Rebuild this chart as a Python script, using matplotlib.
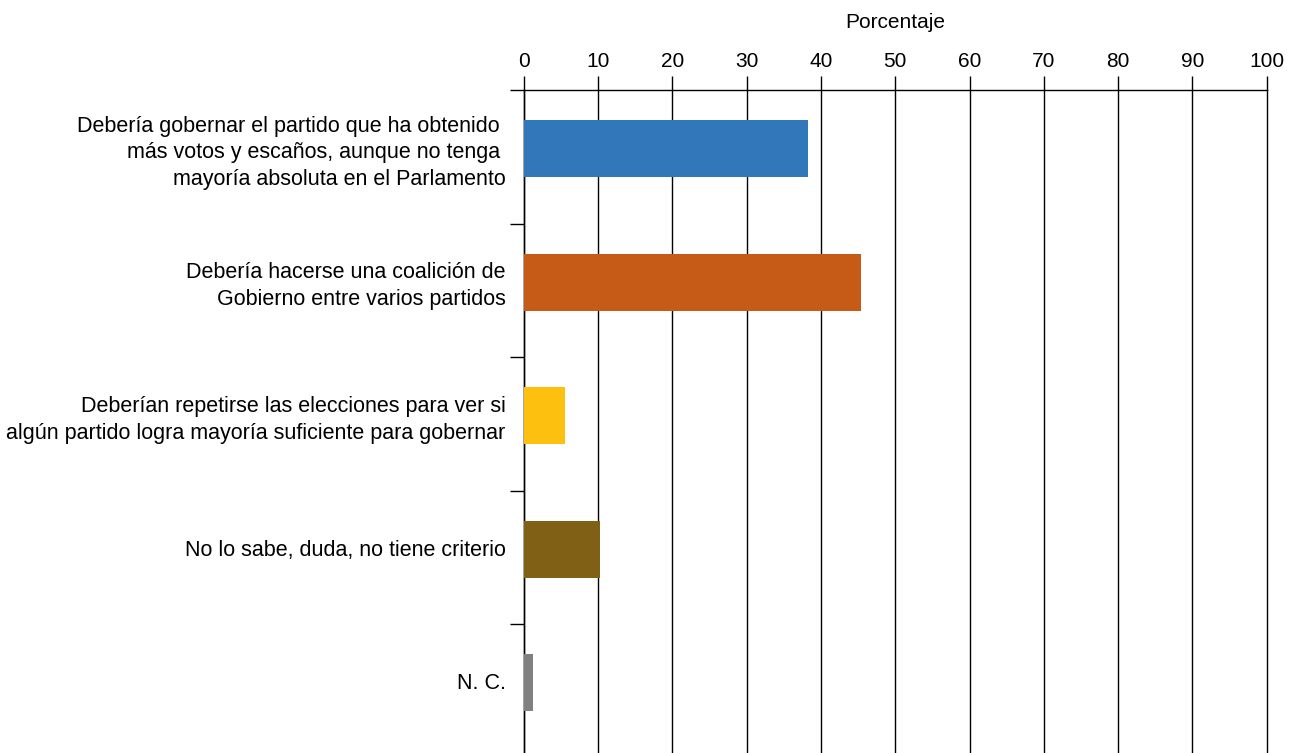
import numpy as np
import matplotlib
matplotlib.use("Agg")
import matplotlib.pyplot as plt

# -----------------------------
# DATA
# -----------------------------
categories = [
    "Debería gobernar el partido que ha obtenido \nmás votos y escaños, aunque no tenga \nmayoría absoluta en el Parlamento",
    "Debería hacerse una coalición de\nGobierno entre varios partidos",
    "Deberían repetirse las elecciones para ver si\nalgún partido logra mayoría suficiente para gobernar",
    "No lo sabe, duda, no tiene criterio",
    "N. C.",
]
values = [38.2, 45.4, 5.6, 10.3, 1.3]
colors = ["#3277BA", "#C65A17", "#FEC00F", "#7F6014", "#808080"]
x_ticks = list(range(0, 101, 10))

plt.rcParams["font.family"] = ["Liberation Sans", "DejaVu Sans"]

fig = plt.figure(figsize=(12.96, 7.53), dpi=100)
ax = fig.add_axes([523.7 / 1296, 0.0, (1266.7 - 523.7) / 1296, 1 - 90 / 753])

pos = np.arange(len(categories))
ax.barh(pos - 0.06, values, height=0.43, color=colors, zorder=3)

# axis limits
ax.set_xlim(0, 100)
ax.set_ylim(-0.5 + 663 / 133.5, -0.5)

# x axis on top
ax.xaxis.tick_top()
ax.xaxis.set_label_position("top")
ax.set_xticks(x_ticks)
ax.tick_params(axis="x", length=10, width=1, color="black", labelsize=15, pad=4)
ax.set_xlabel("Porcentaje", fontsize=15, labelpad=17)
for xv in x_ticks:
    ax.axvline(xv, color="black", linewidth=1, zorder=0, clip_on=False)

# y axis labels and separators
ax.set_yticks(pos - 0.07)
ax.set_yticklabels(categories, fontsize=15.5, linespacing=1.35)
ax.tick_params(axis="y", which="major", length=0, pad=13)
ax.set_yticks(np.arange(-0.5, len(categories) - 0.5, 1), minor=True)
ax.tick_params(axis="y", which="minor", length=10, width=1, color="black")

for s in ["right", "bottom"]:
    ax.spines[s].set_visible(False)
ax.spines["top"].set_linewidth(1)
ax.spines["left"].set_linewidth(1)

fig.savefig("out.png", dpi=100)
